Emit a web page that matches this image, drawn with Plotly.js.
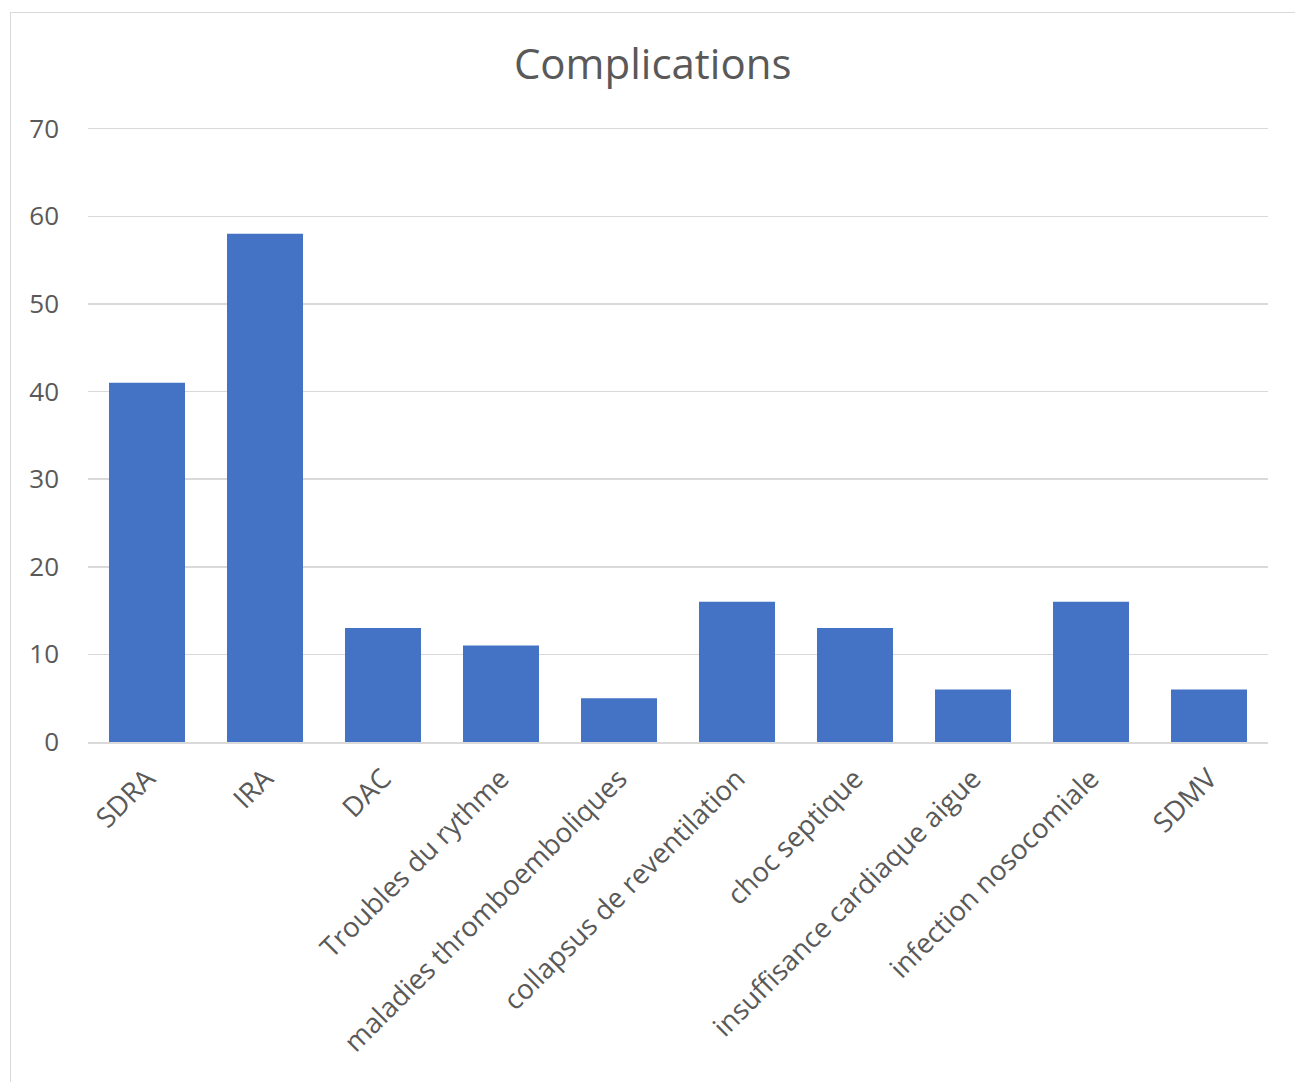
<!DOCTYPE html>
<html>
<head>
<meta charset="utf-8">
<script src="https://cdn.plot.ly/plotly-3.0.1.min.js"></script>
<style>
  html, body { margin: 0; padding: 0; background: #fff; }
  #wrap { position: relative; width: 1295px; height: 1082px; overflow: hidden; }
  #chart { position: absolute; left: 0; top: 0; width: 1295px; height: 1082px; }
  #frame { position: absolute; left: 10px; top: 12px; width: 1300px; height: 1100px;
           border: 1.5px solid #d9d9d9; pointer-events: none; box-sizing: border-box; }
</style>
</head>
<body>
<div id="wrap">
  <div id="chart"></div>
  <div id="frame"></div>
</div>
<script>
const categories = [
  "SDRA", "IRA", "DAC", "Troubles du rythme", "maladies thromboemboliques",
  "collapsus de reventilation", "choc septique", "insuffisance cardiaque aigue",
  "infection nosocomiale", "SDMV"
];
const values = [41, 58, 13, 11, 5, 16, 13, 6, 16, 6];
const yTicks = [0, 10, 20, 30, 40, 50, 60, 70];
const chartTitle = "Complications";

const FONT = "'Open Sans', 'Noto Sans', sans-serif";
const GREY = "#595959";

const trace = {
  type: "bar",
  x: categories,
  y: values,
  marker: { color: "#4472C4" },
  hoverinfo: "x+y"
};

const layout = {
  width: 1295,
  height: 1082,
  margin: { l: 88, r: 27, t: 126, b: 340, pad: 0 },
  paper_bgcolor: "rgba(0,0,0,0)",
  plot_bgcolor: "rgba(0,0,0,0)",
  bargap: 0.356,
  showlegend: false,
  title: {
    text: chartTitle,
    font: { family: FONT, size: 42, color: GREY },
    x: 0.504, xref: "container", xanchor: "center",
    y: 0.941, yref: "container", yanchor: "middle"
  },
  xaxis: {
    type: "category",
    tickangle: -45,
    tickfont: { family: FONT, size: 27.5, color: GREY },
    ticklabelstandoff: 8,
    showline: true,
    linecolor: "#d9d9d9",
    linewidth: 1.5,
    ticks: "",
    showgrid: false,
    automargin: false
  },
  yaxis: {
    range: [0, 70.3],
    tickvals: yTicks,
    ticktext: yTicks.map(String),
    tickfont: { family: FONT, size: 26, color: GREY },
    showgrid: true,
    gridcolor: "#d9d9d9",
    gridwidth: 1.5,
    zeroline: false,
    showline: false,
    ticks: "",
    ticklabelstandoff: 28,
    automargin: false
  }
};

Plotly.newPlot("chart", [trace], layout, { displayModeBar: false, staticPlot: true });
</script>
</body>
</html>
